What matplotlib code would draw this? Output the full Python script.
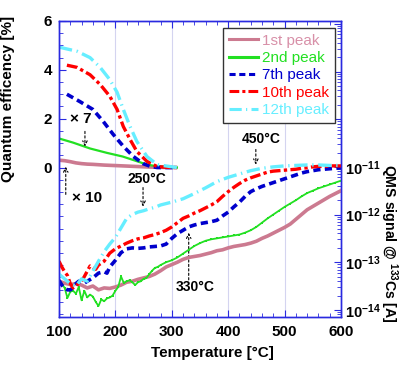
import matplotlib
matplotlib.use('Agg')
import matplotlib.pyplot as plt
import numpy as np
from matplotlib.ticker import MultipleLocator, FixedLocator, LogLocator, FuncFormatter, NullFormatter
from matplotlib.lines import Line2D

plt.rcParams['font.family'] = ['Liberation Sans', 'DejaVu Sans']
plt.rcParams['mathtext.fontset'] = 'custom'
plt.rcParams['mathtext.rm'] = 'Liberation Sans:bold'
plt.rcParams['mathtext.bf'] = 'Liberation Sans:bold'
plt.rcParams['mathtext.default'] = 'rm'

# ---------------- data ----------------
labels = ['1st peak', '2nd peak', '7th peak', '10th peak', '12th peak']

# Quantum efficiency [%] vs temperature (left axis)
qe_t_1 = [100, 110, 120, 130, 140, 150, 160, 180, 200, 220, 240, 260, 280, 300, 310]
qe_1 = [0.30, 0.28, 0.24, 0.19, 0.16, 0.14, 0.13, 0.10, 0.08, 0.06, 0.04, 0.02, 0.01, 0.0, 0.0]

qe_t_2 = [100, 125, 155, 185, 213, 238, 256, 274, 290, 309]
qe_2 = [1.19, 1.02, 0.78, 0.60, 0.45, 0.26, 0.12, 0.05, 0.02, 0.0]

qe_t_7 = [114, 137, 160, 178, 196, 214, 232, 249, 262, 274, 290, 306]
qe_7 = [3.0, 2.7, 2.38, 1.9, 1.36, 0.87, 0.45, 0.16, 0.05, 0.0, 0.0, 0.0]

qe_t_10 = [114, 132, 155, 173, 190, 203, 214, 226, 238, 256, 274, 290, 309]
qe_10 = [4.19, 4.1, 3.8, 3.4, 2.92, 2.38, 1.68, 1.15, 0.66, 0.25, 0.04, 0.01, 0.0]

qe_t_12 = [100, 132, 155, 173, 190, 203, 214, 226, 238, 256, 274, 297, 309]
qe_12 = [4.93, 4.76, 4.5, 4.1, 3.6, 3.08, 2.38, 1.68, 1.07, 0.45, 0.12, 0.04, 0.0]

# QMS signal @133Cs, log10 of current [A] (right axis)
ms_t_1 = [100, 110, 120, 130, 140, 150, 160, 170, 180, 190, 200, 210, 220, 230, 240, 250,
          260, 270, 280, 290, 300, 310, 320, 330, 340, 350, 360, 370, 380, 390, 400, 410,
          420, 430, 440, 450, 460, 470, 480, 490, 500, 510, 520, 530, 540, 550, 560, 570,
          580, 590, 600]
ms_log_1 = [-13.40, -13.44, -13.47, -13.45, -13.48, -13.54, -13.50, -13.58, -13.54, -13.55,
            -13.52, -13.48, -13.42, -13.40, -13.36, -13.33, -13.30, -13.25, -13.18, -13.10,
            -13.05, -13.00, -12.94, -12.90, -12.88, -12.86, -12.83, -12.80, -12.76, -12.74,
            -12.70, -12.67, -12.65, -12.63, -12.60, -12.56, -12.50, -12.45, -12.39, -12.33,
            -12.27, -12.20, -12.10, -12.00, -11.90, -11.83, -11.76, -11.69, -11.62, -11.56,
            -11.50]

ms_t_2 = [100, 105, 110, 115, 120, 125, 130, 135, 140, 145, 150, 155, 160, 165, 170, 175,
          180, 185, 190, 195, 200, 205, 210, 215, 220, 225, 230, 235, 240, 245, 250, 255,
          260, 265, 270, 275, 280, 290, 300, 310, 320, 330, 340, 350, 360, 370, 380, 390,
          400, 410, 420, 430, 440, 450, 460, 470, 480, 490, 500, 510, 520, 530, 540, 550,
          560, 570, 580, 590, 600]
ms_log_2 = [-13.38, -13.45, -13.54, -13.75, -13.62, -13.60, -13.66, -13.52, -13.80, -13.60,
            -13.74, -13.68, -13.72, -13.83, -13.92, -13.78, -13.82, -13.76, -13.74, -13.70,
            -13.60, -13.52, -13.30, -13.44, -13.40, -13.38, -13.42, -13.48, -13.42, -13.40,
            -13.35, -13.33, -13.25, -13.18, -13.12, -13.10, -13.06, -13.00, -12.96, -12.90,
            -12.82, -12.74, -12.66, -12.60, -12.55, -12.52, -12.50, -12.48, -12.46, -12.44,
            -12.42, -12.38, -12.33, -12.26, -12.17, -12.08, -12.00, -11.92, -11.84, -11.77,
            -11.70, -11.62, -11.55, -11.50, -11.45, -11.41, -11.37, -11.33, -11.29]

ms_t_7 = [100, 105, 110, 115, 120, 125, 130, 135, 140, 145, 150, 160, 170, 180, 185, 190,
          200, 210, 220, 230, 240, 250, 260, 270, 280, 290, 300, 310, 320, 330, 340, 350,
          360, 370, 380, 390, 400, 410, 420, 430, 440, 450, 460, 470, 480, 490, 500, 510,
          520, 530, 540, 550, 560, 570, 580, 590, 600]
ms_log_7 = [-13.38, -13.48, -13.55, -13.58, -13.58, -13.54, -13.45, -13.40, -13.42, -13.44,
            -13.40, -13.33, -13.23, -13.20, -13.23, -13.10, -12.96, -12.80, -12.72, -12.70,
            -12.71, -12.70, -12.68, -12.67, -12.66, -12.62, -12.50, -12.40, -12.33, -12.26,
            -12.22, -12.19, -12.17, -12.15, -12.12, -12.03, -11.95, -11.84, -11.74, -11.62,
            -11.52, -11.46, -11.41, -11.37, -11.33, -11.29, -11.25, -11.21, -11.17, -11.13,
            -11.10, -11.08, -11.06, -11.05, -11.04, -11.03, -11.02]

ms_t_10 = [100, 105, 110, 115, 120, 125, 130, 135, 140, 145, 150, 155, 160, 165, 170, 180,
           190, 200, 210, 220, 230, 240, 250, 260, 270, 280, 290, 300, 310, 320, 330, 340,
           350, 360, 370, 380, 390, 400, 410, 420, 430, 440, 450, 460, 470, 480, 490, 500,
           510, 520, 530, 540, 550, 560, 570, 580, 590, 600]
ms_log_10 = [-12.98, -13.10, -13.20, -13.28, -13.45, -13.54, -13.50, -13.44, -13.40, -13.30,
             -13.19, -13.08, -13.12, -13.15, -13.06, -12.98, -12.81, -12.72, -12.66, -12.60,
             -12.55, -12.51, -12.49, -12.45, -12.42, -12.38, -12.33, -12.26, -12.17, -12.08,
             -12.03, -11.97, -11.92, -11.86, -11.80, -11.73, -11.62, -11.52, -11.43, -11.35,
             -11.28, -11.23, -11.19, -11.15, -11.11, -11.09, -11.08, -11.07, -11.06, -11.05,
             -11.03, -11.02, -11.00, -10.99, -10.99, -10.98, -10.98, -10.98]

ms_t_12 = [100, 110, 120, 130, 140, 150, 160, 170, 180, 190, 200, 210, 220, 230, 240, 250,
           260, 270, 280, 290, 300, 320, 340, 360, 380, 400, 420, 440, 460, 480, 500, 520,
           540, 560, 580, 600]
ms_log_12 = [-13.25, -13.35, -13.45, -13.50, -13.35, -13.40, -13.19, -12.98, -12.78, -12.62,
             -12.48, -12.28, -12.08, -12.00, -11.95, -11.92, -11.88, -11.85, -11.80, -11.77,
             -11.74, -11.67, -11.56, -11.44, -11.31, -11.22, -11.15, -11.08, -11.03, -11.00,
             -10.98, -10.97, -10.96, -10.96, -10.97, -10.97]

qms_decades = [-14, -13, -12, -11, -10, -9, -8]
qms_labelled = [-14, -13, -12, -11]

# ---------------- styles ----------------
c_pink = '#cc7a90'
c_pink_txt = '#d890a8'
c_green = '#22e022'
c_blue = '#0000cc'
c_red = '#ff0000'
c_cyan = '#66eeff'
c_spine = '#2a2ae0'

fig = plt.figure(figsize=(4.0, 3.65), dpi=100)
ax = fig.add_axes([0.1475, 0.1315, 0.705, 0.811])
ax2 = ax.twinx()

ax.set_xlim(100, 600)
ax.set_ylim(-6.12, 6.0)
ax2.set_yscale('log')
ax2.set_ylim(10 ** -14.15, 10 ** -7.94)

for x in [200, 300, 400, 500]:
    ax.axvline(x, color='#d4d4f0', lw=0.8, zorder=0)

ls_blue = (0, (2.0, 1.2))
ls_red = (0, (3.2, 1.0, 1.0, 1.0))
ls_cyan = (0, (4.0, 1.4, 0.4, 1.4))

# QE curves
ax.plot(qe_t_1, qe_1, color=c_pink, lw=2.6, solid_capstyle='butt')
ax.plot(qe_t_2, qe_2, color=c_green, lw=1.6)
ax.plot(qe_t_7, qe_7, color=c_blue, lw=2.6, linestyle=ls_blue)
ax.plot(qe_t_10, qe_10, color=c_red, lw=2.4, linestyle=ls_red)
ax.plot(qe_t_12, qe_12, color=c_cyan, lw=2.4, linestyle=ls_cyan)

# QMS curves
ax2.plot(ms_t_1, 10 ** np.array(ms_log_1), color=c_pink, lw=2.6)
ax2.plot(ms_t_2, 10 ** np.array(ms_log_2), color=c_green, lw=1.3, marker='s', ms=1.8,
         markeredgewidth=0)
ax2.plot(ms_t_7, 10 ** np.array(ms_log_7), color=c_blue, lw=2.6, linestyle=ls_blue)
ax2.plot(ms_t_10, 10 ** np.array(ms_log_10), color=c_red, lw=2.4, linestyle=ls_red)
ax2.plot(ms_t_12, 10 ** np.array(ms_log_12), color=c_cyan, lw=2.4, linestyle=ls_cyan)

# ---------------- axes styling ----------------
for a in (ax, ax2):
    for s in a.spines.values():
        s.set_color(c_spine)
        s.set_linewidth(1.0)

FS = 11
ax.xaxis.set_major_locator(MultipleLocator(100))
ax.xaxis.set_minor_locator(MultipleLocator(20))
ax.yaxis.set_major_locator(FixedLocator([0, 2, 4, 6]))
ax.yaxis.set_minor_locator(MultipleLocator(0.5))
ax.tick_params(axis='both', which='both', direction='in', color=c_spine,
               top=True, labelsize=FS)
ax.tick_params(axis='both', which='major', length=5)
ax.tick_params(axis='both', which='minor', length=3)
ax.tick_params(axis='x', pad=6)
ax.tick_params(axis='y', pad=5)
for lab in ax.get_xticklabels() + ax.get_yticklabels():
    lab.set_fontweight('bold')

ax2.yaxis.set_major_locator(FixedLocator([10.0 ** e for e in qms_decades]))
ax2.yaxis.set_minor_locator(LogLocator(base=10, subs=np.arange(2, 10), numticks=20))
ax2.yaxis.set_minor_formatter(NullFormatter())


def fmt(v, pos):
    e = int(round(np.log10(v)))
    if e not in qms_labelled:
        return ''
    return r'$10^{%d}$' % e


ax2.yaxis.set_major_formatter(FuncFormatter(fmt))
ax2.tick_params(axis='y', which='both', direction='in', color=c_spine, labelsize=10.5, pad=3)
ax2.tick_params(axis='y', which='major', length=5)
ax2.tick_params(axis='y', which='minor', length=3)

ax.set_xlabel('Temperature [°C]', fontsize=FS, fontweight='bold')
ax.xaxis.set_label_coords(0.543, -0.098)
ax.set_ylabel('Quantum efficency [%]', fontsize=FS, fontweight='bold')
ax.yaxis.set_label_coords(-0.155, 0.735)
ax2.set_ylabel(r'QMS signal @ $^{133}$Cs [A]', fontsize=10.2, fontweight='bold',
               rotation=-90, va='center')
ax2.yaxis.set_label_coords(1.171, 0.25)

# ---------------- annotations ----------------
arrow = dict(arrowstyle='->', linestyle=(0, (2, 2)), lw=0.8, color='black',
             shrinkA=0, shrinkB=0, mutation_scale=8)
ax.annotate('', xy=(146, 0.86), xytext=(146, 1.48), arrowprops=arrow)
ax.text(139, 1.97, '× 7', fontsize=FS, fontweight='bold', ha='center', va='center')
ax.annotate('', xy=(112, 0.04), xytext=(112, -1.1), arrowprops=arrow)
ax.text(150, -1.23, '× 10', fontsize=FS, fontweight='bold', ha='center', va='center')
ax.annotate('', xy=(249, -1.6), xytext=(249, -0.82), arrowprops=arrow)
ax.text(256, -0.49, '250°C', fontsize=10, fontweight='bold', ha='center', va='center')
ax.annotate('', xy=(330, -2.67), xytext=(330, -4.6), arrowprops=arrow)
ax.text(341, -4.89, '330°C', fontsize=10, fontweight='bold', ha='center', va='center')
ax.annotate('', xy=(449, 0.12), xytext=(449, 0.74), arrowprops=arrow)
ax.text(458, 1.15, '450°C', fontsize=10, fontweight='bold', ha='center', va='center')

# ---------------- legend ----------------
handles = [
    Line2D([], [], color=c_pink, lw=2.2),
    Line2D([], [], color=c_green, lw=2.2),
    Line2D([], [], color=c_blue, lw=2.2, linestyle=ls_blue),
    Line2D([], [], color=c_red, lw=2.2, linestyle=ls_red),
    Line2D([], [], color=c_cyan, lw=2.2, linestyle=ls_cyan),
]
leg = ax2.legend(handles, labels, loc='upper right', bbox_to_anchor=(0.977, 0.975),
                 fontsize=11, frameon=True, fancybox=False, framealpha=1,
                 edgecolor='#333333', handlelength=1.95, handletextpad=0.25,
                 labelspacing=0.22, borderpad=0.35, borderaxespad=0.0)
leg.get_frame().set_linewidth(1.0)
for t, c in zip(leg.get_texts(), [c_pink_txt, c_green, c_blue, c_red, c_cyan]):
    t.set_color(c)

fig.savefig('out.png', dpi=100)
